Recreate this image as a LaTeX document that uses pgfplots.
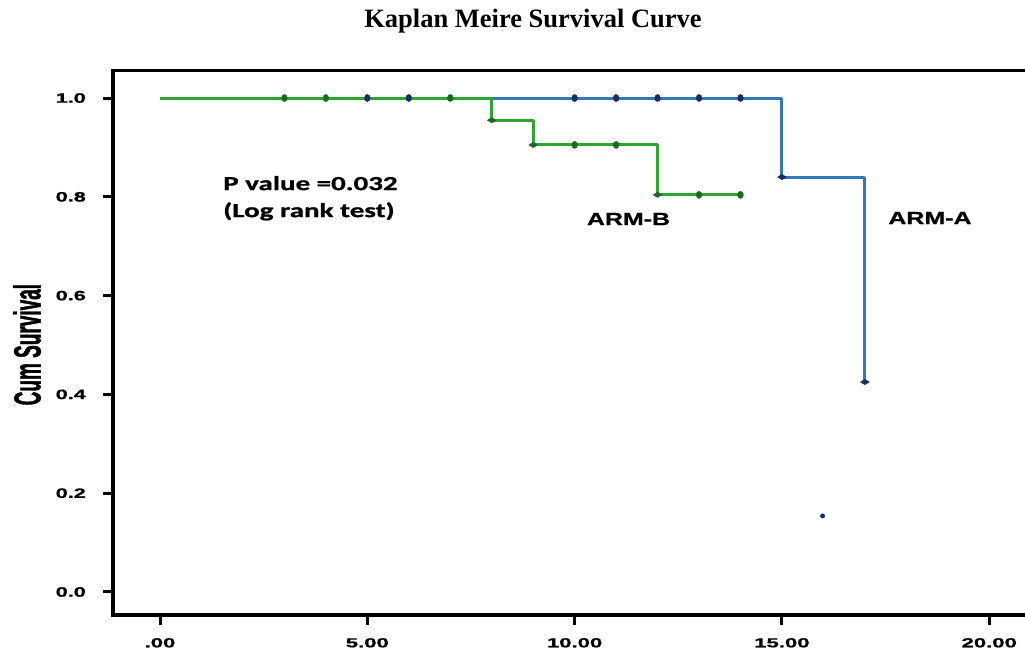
\documentclass[border=0pt]{standalone}
\usepackage{fontspec}
\setmainfont{Liberation Sans}
\newfontfamily\titlefont{Liberation Serif}
\newfontfamily\ytickfont[FakeStretch=1.6,FakeBold=1.2]{Liberation Sans}
\newfontfamily\xtickfont[FakeStretch=1.7,FakeBold=1.2]{Liberation Sans}
\newfontfamily\ylabfont[FakeStretch=0.5,FakeBold=1]{Liberation Sans}
\newfontfamily\annfont[FakeStretch=1.45,FakeBold=1]{Carlito}
\newfontfamily\armfont[FakeStretch=1.41,FakeBold=1]{Liberation Sans}
\usepackage{pgfplots}
\pgfplotsset{compat=1.18}
\definecolor{armA}{RGB}{52,120,180}
\definecolor{armAmark}{RGB}{25,45,100}
\definecolor{armB}{RGB}{45,165,50}
\definecolor{armBmark}{RGB}{25,105,35}
\begin{document}
\begin{tikzpicture}
\useasboundingbox (0,0) rectangle (1025bp,656bp);
\begin{axis}[
  at={(113bp,41bp)}, anchor=south west,
  scale only axis, width=926bp, height=544bp,
  xmin=-1.134, xmax=21.2, ymin=-0.0466, ymax=1.0547,
  axis line style={line width=3bp, black},
  tick align=outside, major tick length=10bp,
  major tick style={line width=3bp, draw=black},
  xtick pos=left, ytick pos=left,
  xtick={0,5,10,15,20}, xticklabels={.00,5.00,10.00,15.00,20.00},
  ytick={0,0.2,0.4,0.6,0.8,1.0}, yticklabels={0.0,0.2,0.4,0.6,0.8,1.0},
  xticklabel style={font={\fontsize{13bp}{15bp}\xtickfont\bfseries}, inner sep=0pt, anchor=north, yshift=-13bp},
  yticklabel style={font={\fontsize{13.5bp}{15bp}\ytickfont\bfseries}, inner sep=0pt, anchor=east, xshift=-17bp},
  ylabel={Cum Survival},
  ylabel style={at={(axis description cs:-0.0929,0.497)}, anchor=center, rotate=0,
    font={\fontsize{38bp}{40bp}\ylabfont\bfseries}},
  title={Kaplan Meire Survival Curve},
  title style={at={(axis description cs:0.4536,1.081)}, anchor=center,
    font={\fontsize{26.5bp}{30bp}\titlefont\bfseries}},
  clip=false,
]
% tick marks (outside)
\pgfplotsinvokeforeach{0,5,10,15,20}{
  \draw[line width=3bp, black] (axis cs:#1,-0.0466) -- ([yshift=-10bp]axis cs:#1,-0.0466);
}
\pgfplotsinvokeforeach{0,0.2,0.4,0.6,0.8,1.0}{
  \draw[line width=3bp, black] (axis cs:-1.134,#1) -- ([xshift=-10bp]axis cs:-1.134,#1);
}
% ARM-A (blue) survival step line
\addplot[armA, line width=3bp, line join=round] coordinates {(0,1)(15,1)(15,0.84)(17,0.84)(17,0.425)};
% ARM-B (green) survival step line
\addplot[armB, line width=3bp, line join=round] coordinates {(0,1)(8,1)(8,0.955)(9,0.955)(9,0.905)(12,0.905)(12,0.804)(14,0.804)};
% ARM-B censor marks
\addplot[only marks, mark=*, mark size=3.6bp, mark options={fill=armBmark, draw=armBmark, xscale=0.8}]
  coordinates {(3,1)(4,1)(7,1)(10,0.905)(11,0.905)(13,0.804)(14,0.804)};
% ARM-B event marks
\addplot[only marks, mark=diamond*, mark size=4.5bp, mark options={fill=armBmark, draw=armBmark, xscale=1.3, yscale=0.6}]
  coordinates {(8,0.955)(9,0.905)(12,0.804)};
% ARM-A censor marks
\addplot[only marks, mark=*, mark size=3.6bp, mark options={fill=armAmark, draw=armAmark, xscale=0.8}]
  coordinates {(5,1)(6,1)(10,1)(11,1)(12,1)(13,1)(14,1)};
% ARM-A event marks
\addplot[only marks, mark=diamond*, mark size=4.5bp, mark options={fill=armAmark, draw=armAmark, xscale=1.3, yscale=0.6}]
  coordinates {(15,0.84)(17,0.425)};
% stray dot
\addplot[only marks, mark=*, mark size=2.2bp, mark options={fill=armAmark, draw=armAmark}]
  coordinates {(15.98,0.154)};
\node[anchor=west, align=left, inner sep=0pt, font={\fontsize{20bp}{27bp}\annfont\bfseries}]
  at (axis cs:1.52,0.797) {P value =0.032\\(Log rank test)};
\node[inner sep=0pt, font={\fontsize{17.7bp}{20bp}\armfont\bfseries}] at (axis cs:11.3,0.755) {ARM-B};
\node[inner sep=0pt, font={\fontsize{17.7bp}{20bp}\armfont\bfseries}] at (axis cs:18.57,0.757) {ARM-A};
\end{axis}
\end{tikzpicture}
\end{document}
